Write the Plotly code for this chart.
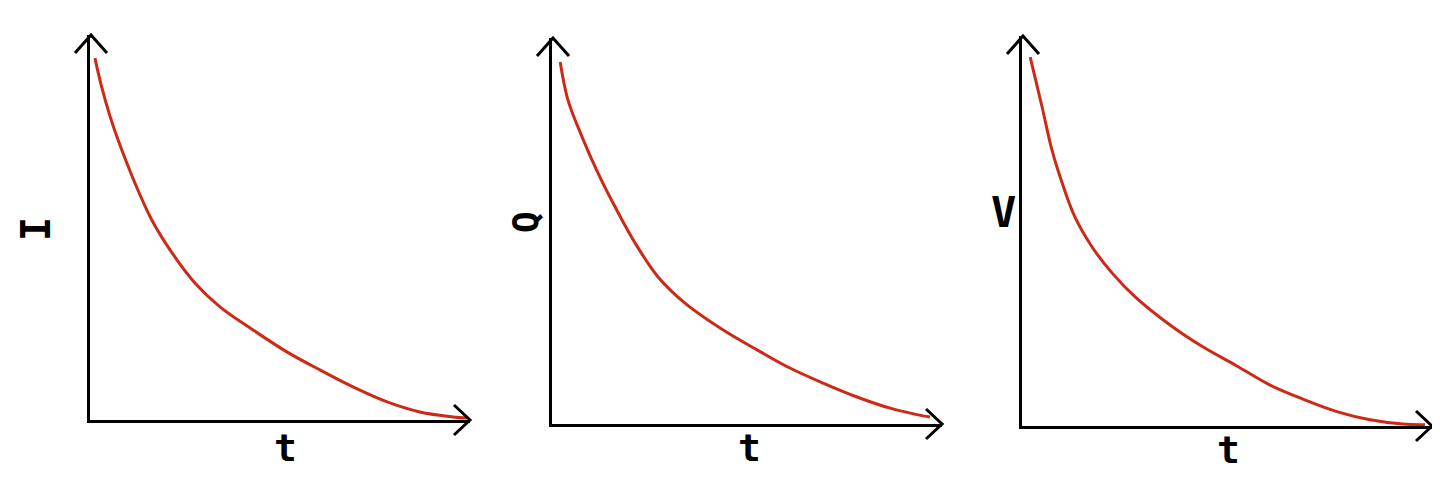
import plotly.graph_objects as go

# values, axis units 0..10 on both axes
t_i = [0.13, 0.29, 0.53, 0.74, 1.18, 1.63, 2.16, 2.76, 3.42, 4.29, 5.18, 6.05, 6.92, 7.82, 8.68, 9.55, 9.92]
i_vals = [9.40, 8.72, 7.88, 7.27, 6.16, 5.19, 4.34, 3.56, 2.94, 2.34, 1.77, 1.30, 0.86, 0.47, 0.21, 0.08, 0.05]

t_q = [0.21, 0.41, 0.77, 1.18, 1.62, 2.13, 2.72, 3.41, 4.38, 5.26, 6.10, 6.95, 7.82, 8.67, 9.51, 9.69]
q_vals = [9.38, 8.39, 7.44, 6.50, 5.62, 4.69, 3.81, 3.13, 2.44, 1.92, 1.45, 1.06, 0.70, 0.41, 0.21, 0.18]

t_v = [0.20, 0.49, 0.73, 0.98, 1.29, 1.71, 2.20, 2.76, 3.61, 4.41, 5.24, 6.05, 6.85, 7.68, 8.49, 9.29, 9.83]
v_vals = [9.46, 8.18, 7.08, 6.23, 5.36, 4.59, 3.92, 3.31, 2.59, 2.03, 1.54, 1.05, 0.69, 0.37, 0.16, 0.05, 0.03]

y_labels = ["I", "Q", "V"]
x_label = "t"

W, H = 1440, 478
OFF = 8  # the page body adds an 8px margin, so pull everything back by that much
# pixel frames of each sketch: origin x, x-axis end, origin y, y-axis top
frames = [(90, 470, 420, 35), (552, 942, 424, 38), (1022, 1432, 426, 36)]
# y label pos, t label pos, y label angle, y label size
label_pos = [((36, 229), (285, 448), -90, 40),
             ((525, 222), (750, 448), -90, 36),
             ((1003, 212), (1228, 450), 0, 42)]

RED = "rgb(204,42,22)"
FONT = "DejaVu Sans Mono"


def px(x):
    return (x - OFF) / W


def py(y):
    return 1 - (y - OFF) / H


fig = go.Figure()
series = [(t_i, i_vals), (t_q, q_vals), (t_v, v_vals)]
shapes = []
annotations = []

for k, ((tx, ty), (x0, x1, y0, y1)) in enumerate(zip(series, frames)):
    n = "" if k == 0 else str(k + 1)
    fig.add_trace(go.Scatter(
        x=tx, y=ty, mode="lines", line=dict(color=RED, width=3, shape="spline", smoothing=1),
        xaxis="x" + n, yaxis="y" + n, showlegend=False, hoverinfo="skip"
    ))
    axis = dict(range=[0, 10], showgrid=False, zeroline=False, showticklabels=False,
                ticks="", showline=True, linecolor="black", linewidth=3)
    fig.update_layout(**{
        "xaxis" + n: dict(axis, domain=[px(x0), px(x1)], anchor="y" + n),
        "yaxis" + n: dict(axis, domain=[py(y0), py(y1)], anchor="x" + n),
    })
    # chevron arrowheads
    shapes.append(dict(type="path", xref="paper", yref="paper",
                       path="M {} {} L {} {} L {} {}".format(px(x0 - 15), py(y1 + 18), px(x0 + 1), py(y1),
                                                              px(x0 + 17), py(y1 + 18)),
                       line=dict(color="black", width=3)))
    shapes.append(dict(type="path", xref="paper", yref="paper",
                       path="M {} {} L {} {} L {} {}".format(px(x1 - 16), py(y0 - 15), px(x1), py(y0),
                                                              px(x1 - 16), py(y0 + 15)),
                       line=dict(color="black", width=3)))
    (lx, ly), (tx_, ty_), ang, size = label_pos[k]
    annotations.append(dict(text="<b>" + y_labels[k] + "</b>", x=px(lx), y=py(ly),
                            xref="paper", yref="paper", showarrow=False, textangle=ang,
                            xanchor="center", yanchor="middle",
                            font=dict(family=FONT, size=size, color="black")))
    annotations.append(dict(text="<b>" + x_label + "</b>", x=px(tx_), y=py(ty_),
                            xref="paper", yref="paper", showarrow=False,
                            xanchor="center", yanchor="middle",
                            font=dict(family=FONT, size=38, color="black")))

fig.update_layout(width=W, height=H, margin=dict(l=0, r=0, t=0, b=0),
                  paper_bgcolor="white", plot_bgcolor="white",
                  shapes=shapes, annotations=annotations)

fig.write_html("out.html")
